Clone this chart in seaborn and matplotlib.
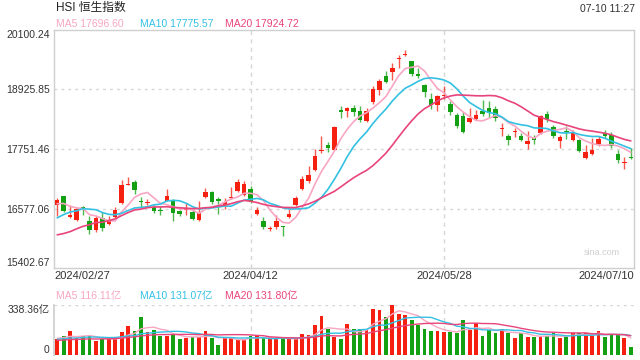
import numpy as np
import pandas as pd
import seaborn as sns
import matplotlib.pyplot as plt
from matplotlib.transforms import blended_transform_factory

# 日K数据 (2024/02/27 - 2024/07/10)
open_ = [16641, 16819, 16405, 16359, 16610, 16326, 16148, 16393, 16280, 16405,
         16689, 17044, 17103, 16728, 16689, 16610, 16537, 16734, 16740, 16523,
         16543, 16517, 16359, 16799, 16912, 16768, 16655, 16780, 16918, 16853,
         16971, 16472, 16339, 16182, 16207, 16227, 16405, 16655, 16971, 17129,
         17332, 17707, 17834, 17741, 18531, 18497, 18564, 18511, 18300, 18675,
         18912, 19202, 19267, 19524, 19616, 19484, 19227, 19024, 18742, 18629,
         18801, 18649, 18432, 18412, 18280, 18347, 18497, 18564, 18544, 18156,
         18017, 18090, 18017, 17860, 17964, 18071, 18452, 18181, 17905, 18102,
         17925, 17938, 17569, 17662, 17860, 18071, 18037, 17662, 17478, 17597]
high = [16793, 16833, 16655, 16616, 16636, 16424, 16438, 16503, 16438, 16610,
        17135, 17202, 17135, 16799, 16768, 16655, 16622, 16965, 16768, 16557,
        16689, 16543, 16720, 16985, 16926, 16807, 16788, 16997, 17169, 17129,
        17017, 16610, 16412, 16241, 16452, 16235, 16570, 16833, 17214, 17425,
        17755, 18017, 17899, 18215, 18610, 18584, 18629, 18596, 18556, 18991,
        19137, 19287, 19452, 19616, 19715, 19498, 19354, 19044, 18860, 18827,
        18995, 18694, 18465, 18472, 18564, 18531, 18728, 18694, 18596, 18268,
        18057, 18169, 18070, 18102, 18037, 18432, 18497, 18235, 18037, 18201,
        18136, 17952, 17840, 17972, 18004, 18122, 18083, 17727, 17597, 17775]
low = [16438, 16503, 16399, 16339, 16458, 16083, 16109, 16128, 16261, 16393,
       16675, 17040, 16867, 16610, 16655, 16491, 16458, 16725, 16326, 16438,
       16458, 16359, 16326, 16788, 16675, 16472, 16570, 16768, 16898, 16819,
       16689, 16452, 16176, 16128, 16176, 16030, 16393, 16636, 16938, 17090,
       17313, 17676, 17688, 17735, 18359, 18387, 18412, 18294, 18280, 18649,
       18827, 19058, 19123, 19354, 19583, 19202, 19149, 18781, 18544, 18497,
       18742, 18432, 18169, 18070, 18274, 18327, 18412, 18387, 18300, 18004,
       17840, 17992, 17905, 17755, 17860, 18057, 18280, 17972, 17775, 17952,
       17905, 17688, 17557, 17642, 17806, 17972, 17775, 17478, 17360, 17557]
close = [16754, 16523, 16458, 16576, 16576, 16148, 16393, 16195, 16359, 16557,
         17050, 17064, 16951, 16701, 16701, 16523, 16523, 16819, 16491, 16472,
         16570, 16379, 16491, 16898, 16709, 16720, 16701, 16799, 17103, 17064,
         16720, 16557, 16215, 16195, 16339, 16215, 16478, 16788, 17163, 17247,
         17623, 17721, 17767, 18181, 18477, 18564, 18477, 18319, 18497, 18945,
         19097, 19070, 19360, 19537, 19630, 19222, 19196, 18872, 18629, 18807,
         18813, 18477, 18215, 18083, 18367, 18432, 18438, 18465, 18367, 18169,
         17925, 18102, 17938, 17905, 17938, 18398, 18347, 18017, 17992, 18083,
         18071, 17707, 17688, 17741, 17952, 18017, 17806, 17530, 17490, 17583]
# closes before the window, only to start the moving averages at the right level
prior_close = [16003, 15703, 15485, 15566, 15533, 15510, 16082, 15708, 15878, 15746,
               15879, 15944, 16340, 16156, 16248, 16503, 16742, 16726, 16634]

# 成交额 (亿)
volume = [111, 127, 160, 116, 127, 127, 93, 105, 105, 116,
          156, 194, 160, 260, 156, 171, 127, 127, 138, 107,
          118, 122, 122, 160, 116, 67, 116, 116, 107, 107,
          127, 127, 122, 107, 107, 116, 107, 107, 140, 134,
          200, 267, 178, 122, 107, 207, 174, 178, 171, 312,
          307, 260, 338.36, 278, 274, 238, 200, 178, 160, 160,
          156, 156, 149, 238, 167, 216, 127, 167, 149, 178,
          151, 116, 149, 122, 122, 122, 127, 151, 116, 122,
          151, 149, 149, 127, 160, 122, 145, 145, 118, 51]
prior_volume = [88, 95, 102, 90, 84, 110, 96, 92, 80, 85,
                98, 105, 112, 94, 90, 101, 118, 126, 108]

date_labels = ['2024/02/27', '2024/04/12', '2024/05/28', '2024/07/10']
date_pos = [0, 30, 60, 89]
price_ticks = [15402.67, 16577.06, 17751.46, 18925.85, 20100.24]
vol_max = 338.36
ma_text = ['MA5 17696.60', 'MA10 17775.57', 'MA20 17924.72']
vol_ma_text = ['MA5 116.11亿', 'MA10 131.07亿', 'MA20 131.80亿']

sns.set_theme(style='white')
plt.rcParams['font.family'] = ['Liberation Sans', 'Noto Sans CJK SC']

RED = '#f5200f'
GREEN = '#13a013'
MA_COLORS = ['#f7a6c4', '#33c1e3', '#e8447c']
GRID = '#d6d6d6'

n = len(close)
df = pd.DataFrame({'i': np.arange(n), 'open': open_, 'high': high, 'low': low,
                   'close': close, 'volume': volume})
df['dir'] = np.where(df['close'] >= df['open'], 'up', 'down')
pc = pd.Series(prior_close + close)
pv = pd.Series(prior_volume + volume)
k = len(prior_close)
for w in (5, 10, 20):
    df[f'ma{w}'] = pc.rolling(w).mean().iloc[k:].to_numpy()
    df[f'vma{w}'] = pv.rolling(w).mean().iloc[k:].to_numpy()

fig = plt.figure(figsize=(6.4, 3.6), dpi=100)
ax = fig.add_axes([54 / 640, 1 - 268 / 360, 580 / 640, 238 / 360])
axv = fig.add_axes([54 / 640, 1 - 355 / 360, 580 / 640, 50 / 360])

# candles
cols = np.where(df['dir'] == 'up', RED, GREEN)
ax.vlines(df['i'], df['low'], df['high'], colors=cols, linewidth=1, alpha=0.75, zorder=3)
body_lo = np.minimum(df['open'], df['close'])
body_h = np.maximum(np.abs(df['close'] - df['open']), 18)
ax.bar(df['i'], body_h, bottom=body_lo, width=0.7, color=cols, linewidth=0, zorder=4)

for w, c in zip((5, 10, 20), MA_COLORS):
    sns.lineplot(data=df, x='i', y=f'ma{w}', color=c, linewidth=1.2, ax=ax, zorder=5)

ax.set_xlim(-0.5, n - 0.5)
ax.set_ylim(price_ticks[0], price_ticks[-1])
ax.set_yticks(price_ticks)
ax.set_yticklabels([f'{t:.2f}' for t in price_ticks])
ylabs = ax.get_yticklabels()
ylabs[0].set_va('bottom')
ylabs[-1].set_va('top')
ax.tick_params(axis='y', length=0, pad=3, labelsize=7.5, labelcolor='#333333')
ax.set_xticks([])
ax.set_xlabel('')
ax.set_ylabel('')
for t in price_ticks[1:-1]:
    ax.axhline(t, color=GRID, linewidth=1, linestyle=(0, (2, 3)), zorder=1)
for p in date_pos[1:3]:
    ax.axvline(p, color=GRID, linewidth=1, linestyle=(0, (3, 3)), zorder=1)
for s in ax.spines.values():
    s.set_color('#cfcfcf')
    s.set_linewidth(1)
ax.text(0.976, 0.067, 'sina.com', transform=ax.transAxes, ha='right', va='center',
        fontsize=6.5, color='#cfcfcf')

# date labels
tr = blended_transform_factory(ax.transData, ax.transAxes)
has = ['left', 'center', 'center', 'right']
xs = [-0.5, date_pos[1], date_pos[2], n - 0.5]
for x, lab, ha in zip(xs, date_labels, has):
    ax.text(x, -0.035, lab, transform=tr, ha=ha, va='center', fontsize=8, color='#333333')

# volume
sns.barplot(data=df, x='i', y='volume', hue='dir', palette={'up': RED, 'down': GREEN},
            dodge=False, native_scale=True, width=0.6, errorbar=None, saturation=1,
            legend=False, linewidth=0, ax=axv)
for w, c in zip((5, 10, 20), MA_COLORS):
    sns.lineplot(data=df, x='i', y=f'vma{w}', color=c, linewidth=1.0, ax=axv, zorder=5)
axv.set_xlim(-0.5, n - 0.5)
axv.set_ylim(0, vol_max)
axv.set_yticks([0, vol_max])
axv.set_yticklabels(['0', f'{vol_max:.2f}亿'])
vlabs = axv.get_yticklabels()
vlabs[0].set_va('bottom')
vlabs[1].set_va('top')
axv.tick_params(axis='y', length=0, pad=3, labelsize=7.5, labelcolor='#333333')
axv.set_xticks([])
axv.set_xlabel('')
axv.set_ylabel('')
for t in (0, vol_max):
    axv.axhline(t, color=GRID, linewidth=1, linestyle=(0, (2, 3)), zorder=0)
for p in date_pos[1:3]:
    axv.axvline(p, color=GRID, linewidth=1, linestyle=(0, (3, 3)), zorder=0)
for name, s in axv.spines.items():
    s.set_visible(name == 'left')
    s.set_color('#cfcfcf')

# header texts
fig.text(56 / 640, 1 - 7.5 / 360, 'HSI 恒生指数', ha='left', va='center', fontsize=8.5, color='#222222')
fig.text(635 / 640, 1 - 9.5 / 360, '07-10 11:27', ha='right', va='center', fontsize=7.5, color='#333333')
for x, s, c in zip((56, 140, 225), ma_text, MA_COLORS):
    fig.text(x / 640, 1 - 24 / 360, s, ha='left', va='center', fontsize=7.5, color=c)
for x, s, c in zip((56, 140, 225), vol_ma_text, MA_COLORS):
    fig.text(x / 640, 1 - 295.5 / 360, s, ha='left', va='center', fontsize=7.5, color=c)

fig.savefig('out.png', dpi=100)
